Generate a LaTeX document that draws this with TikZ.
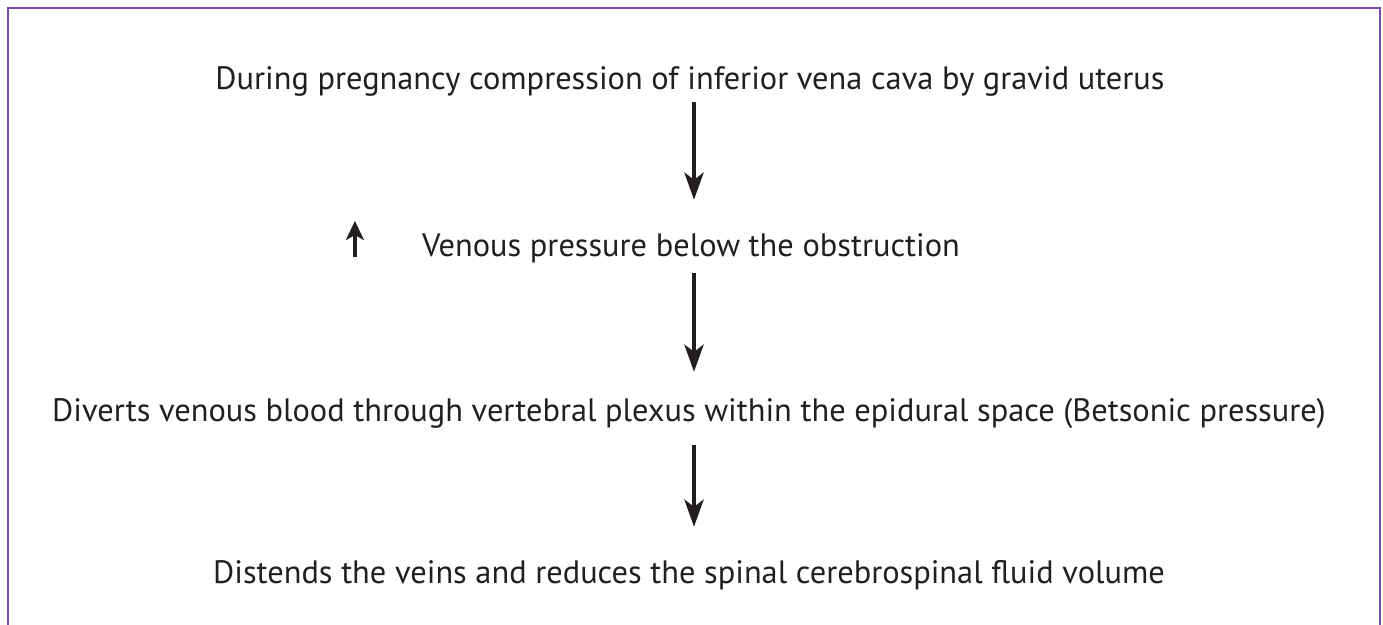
\documentclass[tikz,border=0pt]{standalone}
\usepackage{fontspec}
\setmainfont{PT Sans}
\usepackage{tikz}
\usetikzlibrary{arrows.meta,positioning}
\definecolor{framec}{HTML}{774DA3}
\definecolor{inkc}{HTML}{231F20}
\tikzset{
  frameline/.style={draw=framec, line width=2.8pt},
  stepline/.style={inner sep=0pt, anchor=base, text height=25pt, text depth=7pt,
               font=\fontsize{32.4}{38}\selectfont, text=inkc},
  flow/.style={-{Stealth[length=27pt,width=19pt,inset=7pt]}, line width=4.8pt, draw=inkc},
  rise/.style={-{Stealth[length=19pt,width=18pt,inset=5pt]}, line width=4.8pt, draw=inkc},
}
\begin{document}
\begin{tikzpicture}[x=1pt,y=1pt]
  \useasboundingbox (0,0) rectangle (1383,624);
  \draw[frameline] (8,-10) -- (8,616) -- (1380,616) -- (1380,-10);
  \node[stepline] (cause) at (690,534) {During pregnancy compression of inferior vena cava by gravid uterus};
  \node[stepline] (venous) at (691,367) {Venous pressure below the obstruction};
  \node[stepline] (divert) at (689,202) {Diverts venous blood through vertebral plexus within the epidural space (Betsonic pressure)};
  \node[stepline] (csf) at (689,41) {Distends the veins and reduces the spinal cerebrospinal fluid volume};
  \draw[flow, shorten <=5pt, shorten >=32pt] ([xshift=4pt]cause.south) -- ([xshift=3pt]venous.north);
  \draw[flow, shorten <=9pt, shorten >=25pt] ([xshift=3pt]venous.south) -- ([xshift=5pt]divert.north);
  \draw[flow, shorten <=16pt, shorten >=31pt] ([xshift=5pt]divert.south) -- ([xshift=5pt]csf.north);
  \draw[rise] ([xshift=-67pt]venous.base west) -- ++(0,36);
\end{tikzpicture}
\end{document}
